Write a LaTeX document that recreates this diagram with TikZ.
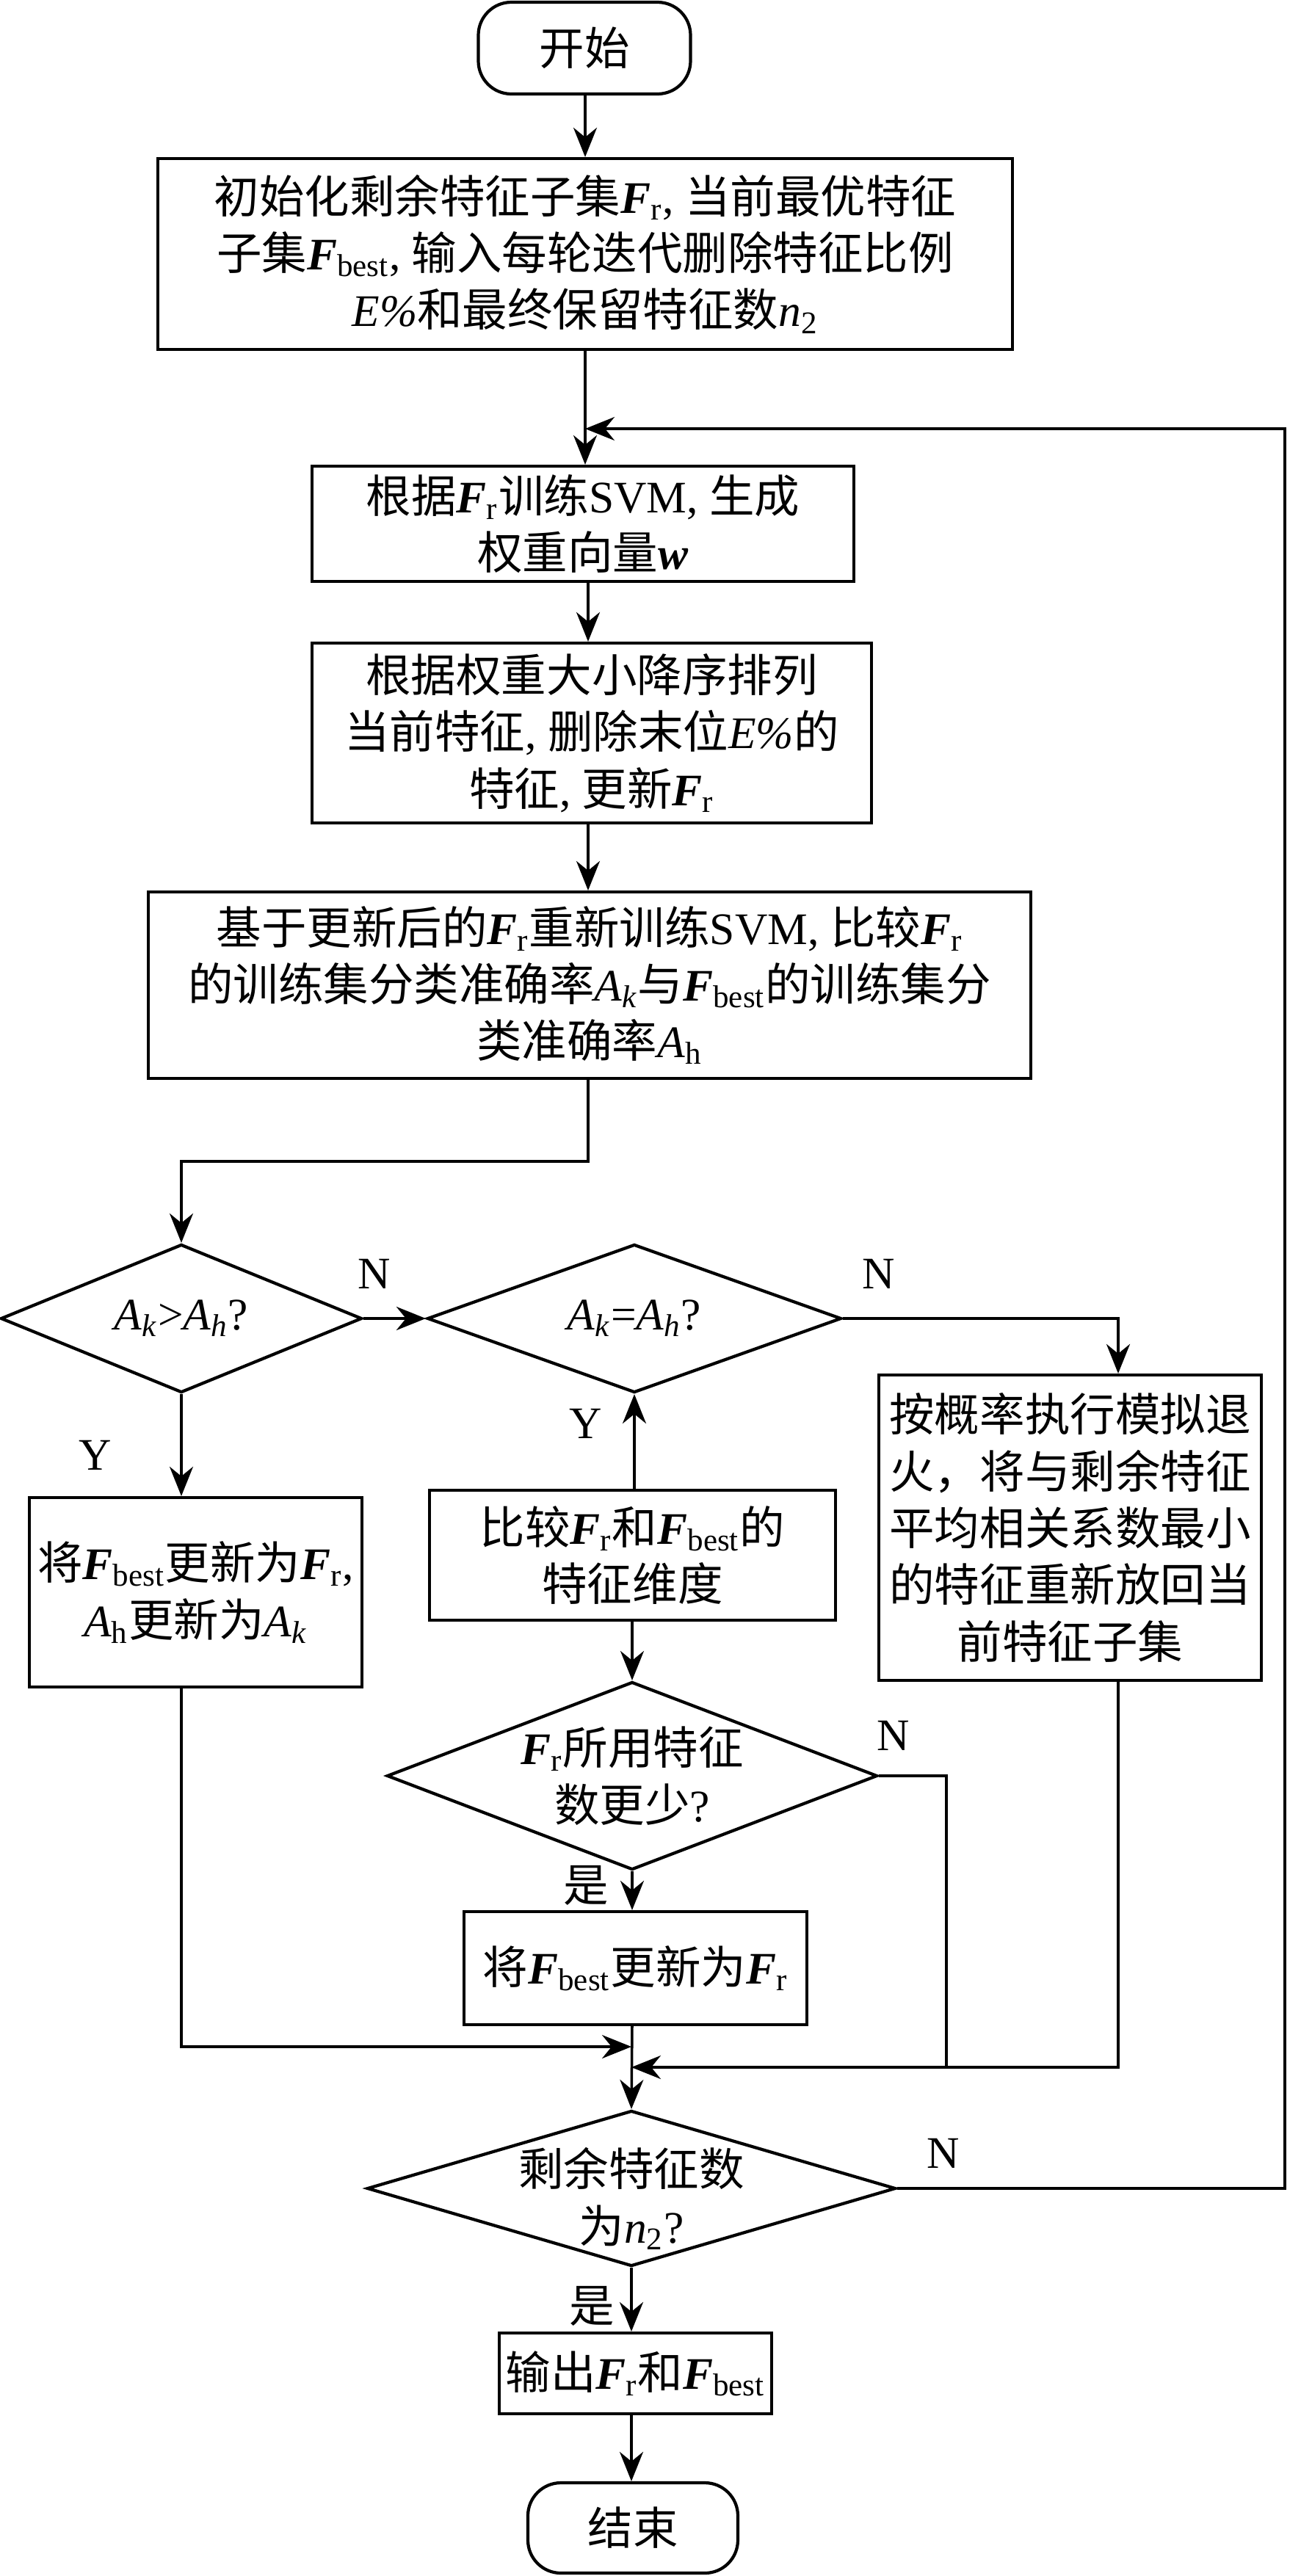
\documentclass[tikz,border=0pt]{standalone}
\usepackage{fontspec}
\setmainfont{Liberation Serif}
\newfontfamily\cjk{Noto Sans CJK SC}
\usetikzlibrary{arrows.meta,shapes.geometric,calc}
\newcommand\bF{\textbf{\textit{F}}}
\newcommand\Fr{\bF\textsubscript{r}}
\newcommand\Fb{\bF\textsubscript{best}}
\newcommand\Ak{\textit{A}\textsubscript{\textit{k}}}
\newcommand\Ah{\textit{A}\textsubscript{h}}
\newcommand\Ahi{\textit{A}\textsubscript{\textit{h}}}
\newcommand\ntwo{\textit{n}\textsubscript{2}}
\newcommand\C[1]{{\cjk #1}}
\begin{document}
\begin{tikzpicture}[x=1cm,y=1cm,
  box/.style={draw, line width=1.2pt, align=center, inner sep=0pt, font=\fontsize{17.5}{22}\selectfont},
  term/.style={box, rounded corners=4.5mm},
  dia/.style={draw, diamond, line width=1.2pt, inner sep=0pt},
  lab/.style={align=center, font=\fontsize{17.5}{22}\selectfont},
  arr/.style={line width=1pt, -{Stealth[length=4mm,width=3.2mm,inset=1.3mm]}},
  ln/.style={line width=1pt}]
\useasboundingbox (0,0) rectangle (17.72,-35.09);
\coordinate (cA) at (7.97,0);
\coordinate (cB) at (8.01,0);

\node[term, minimum width=2.89cm, minimum height=1.25cm] (start) at (7.96,-0.655) {\C{开始}};
\node[box, minimum width=11.64cm, minimum height=2.60cm] (b1) at (7.97,-3.46)
  {\C{初始化剩余特征子集}\Fr, \C{当前最优特征}\\ \C{子集}\Fb, \C{输入每轮迭代删除特征比例}\\ \textit{E\%}\C{和最终保留特征数}\ntwo};
\node[box, minimum width=7.38cm, minimum height=1.57cm] (b2) at (7.94,-7.135)
  {\C{根据}\Fr\C{训练}SVM, \C{生成}\\ \C{权重向量}\textbf{\textit{w}}};
\node[box, minimum width=7.62cm, minimum height=2.45cm] (b3) at (8.06,-9.985)
  {\C{根据权重大小降序排列}\\ \C{当前特征}, \C{删除末位}\textit{E\%}\C{的}\\ \C{特征}, \C{更新}\Fr};
\node[box, minimum width=12.02cm, minimum height=2.54cm] (b4) at (8.03,-13.42)
  {\C{基于更新后的}\Fr\C{重新训练}SVM, \C{比较}\Fr\\ \C{的训练集分类准确率}\Ak\C{与}\Fb\C{的训练集分}\\ \C{类准确率}\Ah};
\node[dia, minimum width=4.92cm, minimum height=2.02cm, label={[lab]center:{\Ak>\Ahi?}}] (d1) at (2.47,-17.96) {};
\node[dia, minimum width=5.64cm, minimum height=2.02cm, label={[lab]center:{\Ak=\Ahi?}}] (d2) at (8.64,-17.96) {};
\node[box, minimum width=5.21cm, minimum height=4.16cm] (ann) at (14.575,-20.81)
  {\C{按概率执行模拟退}\\ \C{火，将与剩余特征}\\ \C{平均相关系数最小}\\ \C{的特征重新放回当}\\ \C{前特征子集}};
\node[box, minimum width=4.53cm, minimum height=2.58cm] (b5) at (2.665,-21.69)
  {\C{将}\Fb\C{更新为}\Fr,\\ \Ah\C{更新为}\Ak};
\node[box, minimum width=5.53cm, minimum height=1.77cm] (b6) at (8.615,-21.185)
  {\C{比较}\Fr\C{和}\Fb\C{的}\\ \C{特征维度}};
\node[dia, minimum width=6.68cm, minimum height=2.56cm, label={[lab]center:{\Fr\C{所用特征}\\ \C{数更少}?}}] (d3) at (8.61,-24.19) {};
\node[box, minimum width=4.67cm, minimum height=1.54cm] (b7) at (8.655,-26.81)
  {\C{将}\Fb\C{更新为}\Fr};
\node[dia, minimum width=7.2cm, minimum height=2.12cm, label={[lab,yshift=-1.4mm]center:{\C{剩余特征数}\\ \C{为}\ntwo?}}] (d4) at (8.6,-29.81) {};
\node[box, minimum width=3.71cm, minimum height=1.10cm] (b8) at (8.655,-32.33)
  {\C{输出}\Fr\C{和}\Fb};
\node[term, minimum width=2.86cm, minimum height=1.23cm] (end) at (8.62,-34.435) {\C{结束}};

\node[lab] (n1) at (5.10,-17.35) {N};
\node[lab] (n2) at (11.97,-17.35) {N};
\node[lab] (y1) at (1.30,-19.82) {Y};
\node[lab] (y2) at (7.98,-19.39) {Y};
\node[lab] (n3) at (12.17,-23.64) {N};
\node[lab] (s1) at (7.98,-25.68) {\C{是}};
\node[lab] (n4) at (12.85,-29.33) {N};
\node[lab] (s2) at (8.06,-31.41) {\C{是}};

\coordinate (j1) at (2.47,-15.82);
\coordinate (j2) at (15.23,-17.96);
\coordinate (m1) at (2.47,-27.88);
\coordinate (m2) at (15.23,-28.16);
\coordinate (m3) at (12.89,-28.16);
\coordinate (lp) at (17.50,-5.84);

\draw[arr] (start.south -| cA) -- (b1.north -| cA);
\draw[arr] (b1.south -| cA) -- (b2.north -| cA);
\draw[arr] (b2.south -| cB) -- (b3.north -| cB);
\draw[arr] (b3.south -| cB) -- (b4.north -| cB);
\draw[arr] (b4.south -| cB) |- (j1) -- (d1.north);
\draw[arr] (d1.east) -- (d2.west);
\draw[arr] (d2.east) -- (j2) -- (ann.north -| j2);
\draw[arr] (d1.south) -- (b5.north -| d1);
\draw[arr] (b6.north -| d2) -- (d2.south);
\draw[arr] (b6.south -| d3) -- (d3.north);
\draw[arr] (d3.south) -- (b7.north -| d3);
\draw[arr] (b7.south -| d3) -- (d4.north);
\draw[arr] (b5.south -| d1) -- (m1) -- (m1 -| d4);
\draw[arr] (ann.south -| m2) -- (m2) -- (m2 -| d4);
\draw[ln] (d3.east) -| (m3);
\draw[arr] (d4.east) -| (lp) -- (lp -| cA);
\draw[arr] (d4.south) -- (b8.north -| d4);
\draw[arr] (b8.south -| d4) -- (end.north -| d4);
\end{tikzpicture}
\end{document}
